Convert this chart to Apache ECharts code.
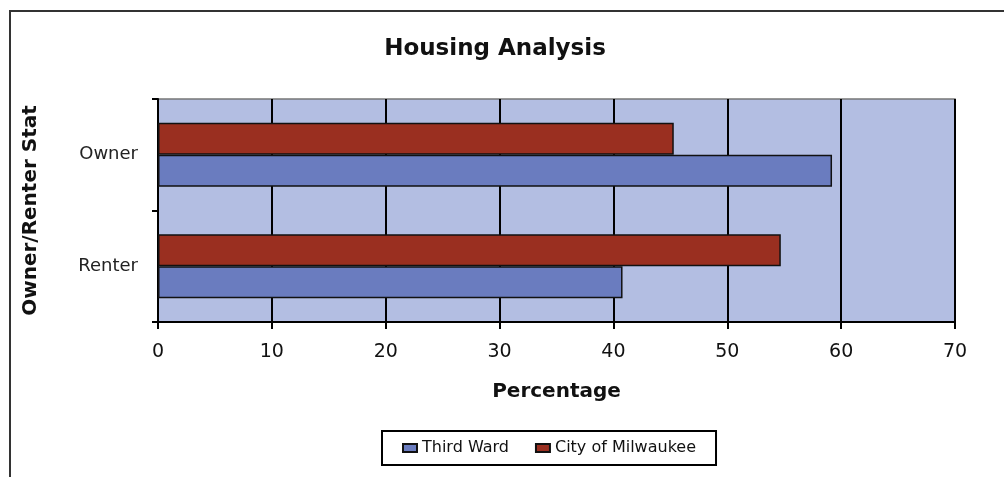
<!DOCTYPE html>
<html>
<head>
<meta charset="utf-8">
<script src="https://cdn.jsdelivr.net/npm/echarts@6/dist/echarts.min.js"></script>
<style>
  html, body { margin: 0; padding: 0; background: #fff; }
  #frame {
    position: absolute; left: 9px; top: 10px; width: 1000px; height: 470px;
    border-left: 2px solid #333; border-top: 2px solid #333;
  }
  #chart { position: absolute; left: 0; top: 0; width: 1004px; height: 477px; }
</style>
</head>
<body>
<div id="frame"></div>
<div id="chart"></div>
<script>
const categories = ['Owner', 'Renter'];
const thirdWard = [59.2, 40.8];
const milwaukee = [45.3, 54.7];
const xTicks = [0, 10, 20, 30, 40, 50, 60, 70];

const myChart = echarts.init(document.getElementById('chart'));
const font = 'DejaVu Sans, Liberation Sans, Arial, sans-serif';

const option = {
  animation: false,
  textStyle: { fontFamily: font },
  title: {
    text: 'Housing Analysis',
    left: 490,
    top: 33,
    textAlign: 'center',
    textStyle: { fontSize: 23, fontWeight: 'bold', color: '#111', fontFamily: font }
  },
  legend: {
    data: ['Third Ward', 'City of Milwaukee'],
    left: 382,
    top: 431,
    padding: [9, 20, 9, 20],
    borderColor: '#000',
    borderWidth: 2,
    itemGap: 26,
    itemWidth: 14,
    itemHeight: 8,
    icon: 'rect',
    textStyle: { fontSize: 16, color: '#111', fontFamily: font }
  },
  grid: {
    left: 158, top: 99, right: 49, bottom: 155,
    show: true,
    backgroundColor: '#B3BEE2',
    borderColor: '#777',
    borderWidth: 1.5
  },
  xAxis: {
    type: 'value',
    min: 0, max: 70, interval: 10,
    name: 'Percentage',
    nameLocation: 'middle',
    nameGap: 60,
    nameTextStyle: { fontSize: 20, fontWeight: 'bold', color: '#111' },
    axisLine: { show: true, lineStyle: { color: '#000', width: 2 } },
    axisTick: { show: true, length: 7, lineStyle: { color: '#000', width: 2 } },
    axisLabel: {
      fontSize: 19, color: '#111', margin: 21,
      formatter: v => (xTicks.indexOf(v) >= 0 ? String(v) : '')
    },
    splitLine: { show: true, lineStyle: { color: '#000', width: 2 } }
  },
  yAxis: {
    type: 'category',
    data: categories,
    inverse: true,
    name: 'Owner/Renter Stat',
    nameLocation: 'middle',
    nameRotate: 90,
    nameGap: 117,
    nameTextStyle: { fontSize: 20, fontWeight: 'bold', color: '#111' },
    axisLine: { show: true, lineStyle: { color: '#000', width: 2 } },
    axisTick: { show: true, length: 6, lineStyle: { color: '#000', width: 2 } },
    axisLabel: { fontSize: 18, color: '#222', margin: 20 }
  },
  series: [
    {
      name: 'City of Milwaukee',
      type: 'bar',
      data: milwaukee,
      barWidth: 32,
      barGap: '0%',
      itemStyle: { color: '#9A2F20', borderColor: '#111', borderWidth: 1.5 }
    },
    {
      name: 'Third Ward',
      type: 'bar',
      data: thirdWard,
      barWidth: 32,
      barGap: '0%',
      itemStyle: { color: '#6A7CBF', borderColor: '#111', borderWidth: 1.5 }
    }
  ]
};

myChart.setOption(option);
window.onresize = function () {
  myChart.resize();
};
</script>
</body>
</html>
